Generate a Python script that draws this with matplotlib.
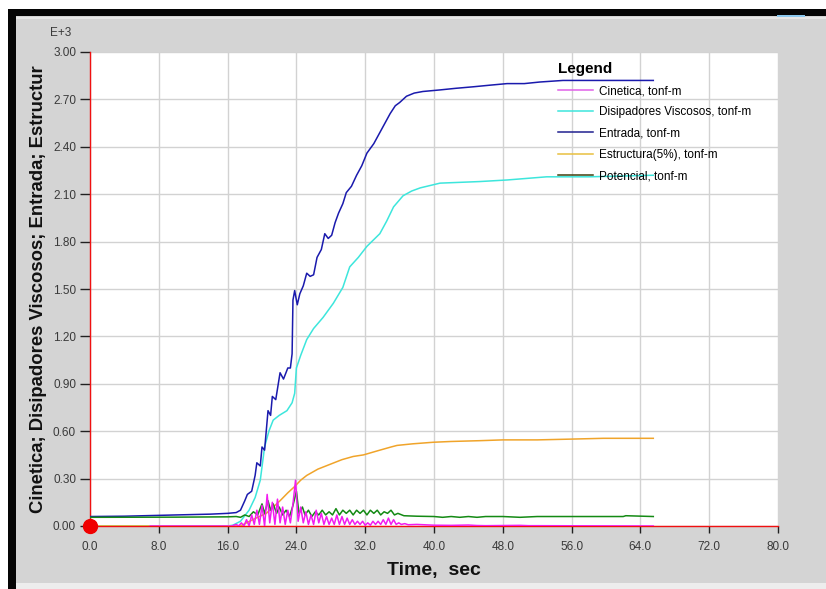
import matplotlib
matplotlib.use("Agg")
import matplotlib.pyplot as plt
from matplotlib.patches import Rectangle
from matplotlib.lines import Line2D

# ---------------- data (values in E+3 tonf-m) ----------------
t_entrada = [0, 4, 7, 10, 14, 16, 17, 17.5, 18, 18.3, 18.8, 19.2, 19.4, 19.8, 20.0, 20.3, 20.7,
             21.0, 21.2, 21.6, 22.1, 22.5, 23.0, 23.3, 23.5, 23.6, 23.8, 24.1, 24.4, 24.8, 25.2,
             25.6, 26.0, 26.4, 26.9, 27.3, 27.7, 28.1, 28.5, 28.9, 29.4, 29.8, 30.4, 31.0, 31.6,
             32.2, 33.0, 33.7, 34.3, 34.9, 35.5, 36.0, 36.8, 37.7, 38.7, 40.7, 42.5, 44.6, 46.5,
             48.5, 50.5, 52.3, 55, 58, 62, 65.5]
v_entrada = [0.060, 0.062, 0.066, 0.070, 0.075, 0.080, 0.085, 0.10, 0.16, 0.20, 0.22, 0.32, 0.40,
             0.38, 0.50, 0.48, 0.73, 0.70, 0.82, 0.80, 0.97, 0.93, 1.00, 1.00, 1.09, 1.43, 1.49,
             1.40, 1.47, 1.52, 1.60, 1.58, 1.59, 1.70, 1.75, 1.85, 1.82, 1.84, 1.92, 1.98, 2.04,
             2.11, 2.15, 2.22, 2.28, 2.36, 2.42, 2.49, 2.55, 2.61, 2.66, 2.68, 2.72, 2.74, 2.75,
             2.76, 2.77, 2.78, 2.79, 2.80, 2.80, 2.81, 2.82, 2.82, 2.82, 2.82]

t_disip = [0, 16, 16.6, 17.5, 18.5, 19.2, 19.8, 20.3, 20.8, 21.3, 22.0, 22.9, 23.5, 23.8, 24.0,
           24.5, 25.2, 26.0, 27.1, 28.3, 29.4, 30.2, 31.2, 32.2, 33.7, 34.5, 35.3, 36.4, 37.4,
           38.4, 40.7, 45.3, 48.5, 53.1, 58, 65.5]
v_disip = [0.0, 0.0, 0.005, 0.03, 0.10, 0.18, 0.29, 0.50, 0.60, 0.67, 0.70, 0.73, 0.78, 0.84,
           1.00, 1.08, 1.18, 1.25, 1.32, 1.41, 1.51, 1.64, 1.70, 1.77, 1.85, 1.93, 2.02, 2.09,
           2.12, 2.14, 2.17, 2.18, 2.19, 2.21, 2.21, 2.22]

t_estruc = [0, 17.5, 18.2, 19.3, 20.5, 21.3, 22.1, 23.0, 23.8, 24.5, 25.2, 26.5, 27.9, 29.3,
            30.6, 31.8, 33.7, 35.0, 35.7, 37.5, 39.9, 42, 45.3, 48, 52, 56, 59.7, 65.5]
v_estruc = [0.0, 0.0, 0.02, 0.05, 0.08, 0.12, 0.16, 0.21, 0.25, 0.29, 0.32, 0.36, 0.39, 0.42,
            0.44, 0.45, 0.48, 0.50, 0.51, 0.52, 0.53, 0.535, 0.54, 0.545, 0.545, 0.55, 0.555, 0.555]

t_poten = [0, 10, 16, 17, 17.5, 18.0, 18.5, 19.0, 19.5, 20.0, 20.3, 20.7, 21.0, 21.3, 21.7, 22.0,
           22.4, 22.8, 23.2, 23.6, 24.0, 24.3, 24.7, 25.0, 25.4, 25.8, 26.2, 26.6, 27.0, 27.4,
           27.8, 28.2, 28.6, 29.0, 29.4, 29.8, 30.2, 30.6, 31.0, 31.4, 31.8, 32.2, 32.6, 33.0,
           33.4, 33.8, 34.2, 34.6, 35.0, 35.4, 35.8, 36.5, 38, 40, 41, 42, 43, 44, 45, 46, 48,
           50, 52, 55, 62, 62.3, 65.5]
v_poten = [0.055, 0.056, 0.058, 0.060, 0.055, 0.070, 0.060, 0.090, 0.070, 0.140, 0.080, 0.160,
           0.100, 0.140, 0.080, 0.120, 0.070, 0.100, 0.060, 0.130, 0.220, 0.080, 0.120, 0.070,
           0.100, 0.060, 0.090, 0.070, 0.100, 0.070, 0.090, 0.070, 0.110, 0.070, 0.100, 0.080,
           0.100, 0.070, 0.100, 0.080, 0.100, 0.070, 0.100, 0.080, 0.100, 0.070, 0.090, 0.080,
           0.100, 0.070, 0.080, 0.065, 0.062, 0.060, 0.055, 0.060, 0.055, 0.060, 0.055, 0.060,
           0.060, 0.055, 0.060, 0.060, 0.060, 0.065, 0.060]

t_cinet = [7, 16.5, 17.0, 17.3, 17.6, 17.9, 18.2, 18.5, 18.8, 19.1, 19.4, 19.7, 20.0, 20.3, 20.6,
           20.9, 21.2, 21.5, 21.8, 22.1, 22.4, 22.7, 23.0, 23.3, 23.6, 23.9, 24.2, 24.5, 24.8,
           25.1, 25.4, 25.7, 26.0, 26.3, 26.6, 26.9, 27.2, 27.5, 27.8, 28.1, 28.4, 28.7, 29.0,
           29.3, 29.6, 29.9, 30.2, 30.5, 30.8, 31.1, 31.4, 31.7, 32.0, 32.3, 32.6, 32.9, 33.2,
           33.5, 33.8, 34.1, 34.4, 34.7, 35.0, 35.3, 35.6, 35.9, 36.2, 36.6, 37.0, 38, 40, 42,
           44, 45, 46, 50, 51, 52, 65.5]
v_cinet = [0.0, 0.0, 0.01, 0.0, 0.02, 0.0, 0.04, 0.0, 0.07, 0.01, 0.10, 0.01, 0.13, 0.0, 0.20,
           0.02, 0.15, 0.01, 0.17, 0.02, 0.12, 0.01, 0.10, 0.02, 0.14, 0.29, 0.03, 0.12, 0.02,
           0.09, 0.01, 0.07, 0.01, 0.10, 0.02, 0.08, 0.01, 0.06, 0.01, 0.05, 0.01, 0.07, 0.01,
           0.06, 0.01, 0.05, 0.01, 0.04, 0.01, 0.03, 0.01, 0.03, 0.005, 0.02, 0.005, 0.03, 0.01,
           0.03, 0.01, 0.04, 0.01, 0.05, 0.01, 0.04, 0.01, 0.02, 0.01, 0.015, 0.008, 0.01, 0.005,
           0.004, 0.006, 0.003, 0.002, 0.004, 0.002, 0.002, 0.0]

x_ticks = [0, 8, 16, 24, 32, 40, 48, 56, 64, 72, 80]
y_ticks = [0.00, 0.30, 0.60, 0.90, 1.20, 1.50, 1.80, 2.10, 2.40, 2.70, 3.00]
legend_labels = ["Cinetica, tonf-m", "Disipadores Viscosos, tonf-m", "Entrada, tonf-m",
                 "Estructura(5%), tonf-m", "Potencial, tonf-m"]

# ---------------- figure ----------------
W, H = 826, 589
plt.rcParams["font.family"] = ["Liberation Sans", "DejaVu Sans"]
fig = plt.figure(figsize=(W / 100, H / 100), dpi=100, facecolor="white")


def prect(x0, y0, w, h, color):
    fig.patches.append(Rectangle((x0 / W, 1 - (y0 + h) / H), w / W, h / H,
                                 transform=fig.transFigure, facecolor=color,
                                 edgecolor="none", zorder=-5))


prect(15, 16, 811, 567, "#d4d4d4")
prect(15, 17, 811, 2, "#e6e6e6")
prect(8, 9, 818, 7, "#050505")
prect(8, 9, 8, 580, "#050505")
prect(16, 583, 810, 6, "#ededed")
prect(777, 15, 28, 2, "#8cc8ee")

L, R, T, B = 90, 778, 52, 526
ax = fig.add_axes([L / W, 1 - B / H, (R - L) / W, (B - T) / H])
ax.set_zorder(1)
ax.set_facecolor("white")

c_cin = "#f21cf0"
c_dis = "#3de6dc"
c_ent = "#1a1aad"
c_est = "#f0a42a"
c_pot = "#148a14"

ax.plot(t_disip, v_disip, color=c_dis, lw=1.1, zorder=3)
ax.plot(t_estruc, v_estruc, color=c_est, lw=1.1, zorder=3)
ax.plot(t_entrada, v_entrada, color=c_ent, lw=1.1, zorder=4)
ax.plot(t_poten, v_poten, color=c_pot, lw=1.1, zorder=4)
ax.plot(t_cinet, v_cinet, color=c_cin, lw=1.1, zorder=5)

ax.set_xlim(0, 80)
ax.set_ylim(0, 3.0)
ax.set_xticks(x_ticks)
ax.set_xticklabels([f"{v:.1f}" for v in x_ticks])
ax.set_yticks(y_ticks)
ax.set_yticklabels([f"{v:.2f}" for v in y_ticks])
ax.grid(True, color="#d2d2d2", lw=1)
ax.set_axisbelow(True)
ax.tick_params(axis="both", labelsize=8.5, labelcolor="#3a3a3a", color="#202020",
               width=1)
ax.tick_params(axis="y", length=7, pad=3)
ax.tick_params(axis="x", length=5, pad=6)

for s in ["top", "right"]:
    ax.spines[s].set_visible(False)
ax.spines["left"].set_color("#f01010")
ax.spines["bottom"].set_color("#f01010")
ax.spines["left"].set_linewidth(1)
ax.spines["bottom"].set_linewidth(1)

ax.plot([0], [0], "o", color="#f00000", ms=10, clip_on=False, zorder=10)

ax.set_xlabel("Time,  sec", fontsize=14, fontweight="bold", color="#111111", labelpad=6)
ax.set_ylabel("Cinetica; Disipadores Viscosos; Entrada; Estructur", fontsize=13.3,
              fontweight="bold", color="#111111", labelpad=4)
fig.text(50 / W, 1 - 33 / H, "E+3", fontsize=8.5, color="#3a3a3a", ha="left", va="center")

handles = [Line2D([], [], color=c, lw=1.1) for c in
           ["#e060e8", c_dis, "#202090", "#e8c040", "#404010"]]
leg = ax.legend(handles, legend_labels, title="Legend", loc="upper left",
                bbox_to_anchor=((558 - L) / (R - L), 1 - (62 - T) / (B - T)),
                frameon=False, fontsize=8.5, handlelength=3.0, handletextpad=0.45,
                labelspacing=0.78, borderpad=0, borderaxespad=0, alignment="left",
                title_fontproperties={"weight": "bold", "size": 11})

fig.savefig("out.png", dpi=100, facecolor=fig.get_facecolor())
